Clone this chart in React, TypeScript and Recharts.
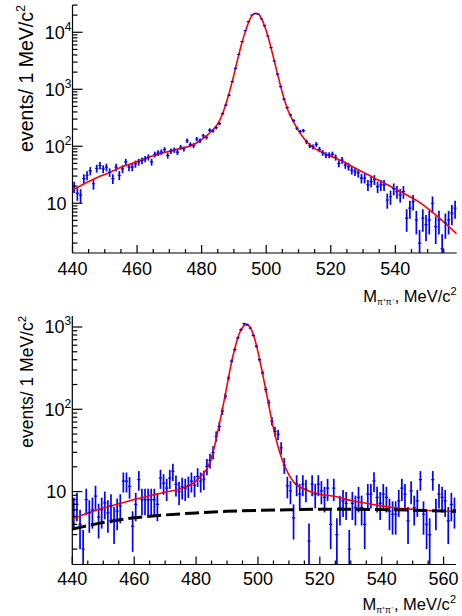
import React from 'react';
import { ComposedChart, XAxis, YAxis, Scatter, Line, ErrorBar } from 'recharts';

const FONT = '"Liberation Sans", Arial, Helvetica, sans-serif';

// ---------- Panel a ----------
const binStartA = 440.5; // first bin centre, 1 MeV bins
const countsA = [
  19.5, 14.9, 13.9, 27, 31, 37, 22, 41, 46, 40,
  43, 35, 27, 43, 31, 40, 53, 43, 43, 49,
  53, 56, 60, 64, 53, 72, 76, 79, 87, 69,
  82, 86, 79, 96, 90, 125, 107, 103, 134, 125,
  153, 143, 192, 187, 213, 250, 373, 528, 790, 1360,
  2330, 4110, 6840, 10670, 15350, 20100, 21200, 20700, 17100, 13060,
  8610, 5370, 3130, 1850, 1110, 670, 475, 354, 281, 207,
  180, 188, 120, 103, 98, 108, 88, 77, 70, 70,
  72, 64, 50, 57, 47, 44, 38, 36, 34, 27.5,
  27.5, 21, 24, 26, 19.5, 21, 21, 11.4, 13, 18,
  16, 14, 16, 5.5, 8.2, 10.7, 5.1, 2.0, 5.5, 4.2,
  5.1, 10, 3.9, 5.1, 1.6, 4.5, 5.1, 6.7, 8.2,
];
const fitAx = [
  440, 442, 445, 448, 450, 453, 455, 458, 460, 463, 465, 468, 470, 473, 475, 477, 479, 480, 481, 482,
  483, 484, 485, 486, 487, 488, 489, 490, 491, 492, 493, 494, 495, 496, 496.8, 497.5, 498, 498.5, 499, 499.5,
  500, 500.5, 501, 501.5, 502, 502.5, 503, 503.5, 504, 504.5, 505, 505.5, 506, 506.5, 507, 508, 509, 510, 511, 512,
  513, 514, 515, 516, 517, 518, 520, 522, 525, 528, 530, 533, 535, 538, 540, 543, 545, 547, 549, 551,
  553, 555, 557, 559,
];
const fitAy = [
  17, 19.5, 24, 29, 32, 38, 43, 49, 54, 62, 68, 76, 82, 90, 96, 104, 120, 132, 145, 162,
  183, 210, 250, 320, 450, 680, 1080, 1800, 3100, 5200, 8300, 12300, 17300, 20600, 21600, 21000, 19700, 17500, 15200, 12800,
  10600, 8600, 6800, 5300, 4100, 3150, 2400, 1850, 1430, 1110, 870, 690, 560, 465, 395, 300, 235, 188, 155, 130,
  113, 101, 92, 85, 80, 75, 67, 60, 50, 40, 35, 28.5, 25, 20.5, 17.8, 14.5, 12.5, 10.8, 9, 7.3,
  5.9, 4.7, 3.7, 2.9,
];
const xDomainA: [number, number] = [440, 559];
const yDomainA: [number, number] = [1.34, 30100];
const xTicksA = [440, 445, 450, 455, 460, 465, 470, 475, 480, 485, 490, 495, 500, 505, 510, 515, 520, 525, 530, 535, 540, 545, 550, 555];
const xMajorA = [440, 460, 480, 500, 520, 540];
const yMajorA = [10, 100, 1000, 10000];

// ---------- Panel b ----------
const binStartB = 440.5;
const countsB = [
  6, 7, 4, 2, 8, 5.5, 6, 8.8, 4.9, 6,
  7.3, 5.5, 6.7, 4.4, 5.8, 6.7, 13.4, 13.4, 11.6, 3.8,
  7, 14, 8, 8, 8, 8, 8, 7, 14.6, 12.7,
  11, 14.6, 17.6, 12.2, 10, 11.4, 11, 11.8, 13.4, 12,
  15.3, 13.4, 14.2, 20.3, 24, 30, 47, 62, 95, 145,
  240, 384, 531, 736, 927, 1096, 1066, 972, 793, 583,
  401, 277, 174, 120, 72, 54, 49.5, 34, 21, 11.7,
  10.2, 4.8, 12.3, 9.3, 12.3, 10.7, 2.5, 12.3, 9.3, 12.3,
  10.2, 8.5, 11, 4.0, 11, 3.0, 6.4, 7.7, 7.2, 2.0,
  7.2, 6.4, 8.5, 6.4, 4.0, 9.3, 9.3, 13.5, 8.5, 7.2,
  9.3, 8.5, 5.8, 5.3, 5.3, 7.7, 11, 9.3, 4.4, 10.2,
  6.4, 7.7, 14, 5.3, 4.0, 3.0, 14, 5.8, 9.3, 8.5,
  7.7, 4.4, 7, 6,
];
const fitBx = [
  440, 445, 450, 455, 460, 465, 470, 475, 478, 480, 482, 483.5, 484.5, 485.5, 486.5, 487.5, 488.5, 489.5, 490.5, 491.5,
  492.5, 493.5, 494.5, 495.5, 496.3, 497, 497.5, 498.5, 499.5, 500.5, 501.5, 502.5, 503.5, 504.5, 505.5, 506.5, 507.5, 508.5, 510, 512,
  515, 520, 525, 530, 535, 540, 545, 550, 555, 560, 564,
];
const fitBy = [
  4.6, 5.5, 6.3, 7.1, 8.0, 8.9, 9.8, 10.8, 12.0, 13.5, 16, 19, 23, 30, 44, 65, 100, 155, 245, 380,
  545, 740, 920, 1040, 1075, 1040, 990, 810, 600, 410, 270, 175, 112, 72, 49, 35, 26.5, 21, 16, 12.5,
  10.7, 9.3, 8.7, 7.8, 7.2, 6.7, 6.3, 6.1, 5.9, 5.8, 5.75,
];
const bkgBx = [440, 450, 460, 470, 480, 490, 500, 510, 520, 530, 540, 550, 560, 564];
const bkgBy = [3.5, 4.2, 4.8, 5.2, 5.5, 5.75, 5.9, 6.0, 6.1, 6.1, 6.05, 5.95, 5.8, 5.75];
const xDomainB: [number, number] = [440, 564];
const yDomainB: [number, number] = [1.3, 1360];
const xTicksB = [440, 445, 450, 455, 460, 465, 470, 475, 480, 485, 490, 495, 500, 505, 510, 515, 520, 525, 530, 535, 540, 545, 550, 555, 560];
const xMajorB = [440, 460, 480, 500, 520, 540, 560];
const yMajorB = [10, 100, 1000];

const decades = [1, 10, 100, 1000, 10000];
const minorMult = [1, 2, 3, 4, 5, 6, 7, 8, 9];

const logTicks = (dom: [number, number]) =>
  decades.flatMap((d) => minorMult.map((m) => m * d)).filter((v) => v >= dom[0] && v <= dom[1]);

const toPoints = (start: number, counts: number[], yMin: number) =>
  counts.map((v, i) => {
    const e = Math.sqrt(v);
    return { x: start + i, y: v, err: [Math.min(e, v - yMin), e] };
  });

const zip = (xs: number[], ys: number[]) => xs.map((x, i) => ({ x, y: ys[i] }));

const makeXTick = (majors: number[], labelDy: number) => (props: any) => {
  const { x, y, payload } = props;
  const v = payload.value;
  const major = majors.includes(v);
  return (
    <g>
      <line x1={x} x2={x} y1={y} y2={y - (major ? 8 : 4)} stroke="#000" strokeWidth={1.2} />
      {major && (
        <text x={x} y={y + labelDy} textAnchor="middle" fontSize={18} fontFamily={FONT} fill="#000">
          {v}
        </text>
      )}
    </g>
  );
};

const makeYTick = (majors: number[]) => (props: any) => {
  const { x, y, payload } = props;
  const v = payload.value;
  const major = majors.includes(v);
  const exp = Math.round(Math.log10(v));
  return (
    <g>
      <line x1={x} x2={x + (major ? 10 : 5)} y1={y} y2={y} stroke="#000" strokeWidth={1.2} />
      {major &&
        (exp === 1 ? (
          <text x={x - 6} y={y + 6.5} textAnchor="end" fontSize={18} fontFamily={FONT} fill="#000">
            10
          </text>
        ) : (
          <text x={x - 1} y={y + 6.5} textAnchor="end" fontSize={18} fontFamily={FONT} fill="#000">
            10
            <tspan dy={-8} fontSize={12}>
              {exp}
            </tspan>
          </text>
        ))}
    </g>
  );
};

const makeXTitle = (dy: number) => (props: any) => {
  const vb = props.viewBox;
  return (
    <text x={vb.x + vb.width} y={vb.y + dy} textAnchor="end" fontSize={16.5} fontFamily={FONT} fill="#000">
      M
      <tspan fontSize={8.5} dy={3}>
        π⁺π⁻
      </tspan>
      <tspan dy={-3}>, MeV/c</tspan>
      <tspan fontSize={11} dy={-7}>
        2
      </tspan>
    </text>
  );
};

const makeYTitle = (size: number) => (props: any) => {
  const vb = props.viewBox;
  const x = vb.x + 33;
  const y = vb.y;
  return (
    <text
      x={x}
      y={y}
      transform={`rotate(-90, ${x}, ${y})`}
      textAnchor="end"
      fontSize={size}
      fontFamily={FONT}
      fill="#000"
    >
      events/ 1 MeV/c
      <tspan fontSize={size * 0.65} dy={-size * 0.42}>
        2
      </tspan>
    </text>
  );
};

const makeTag = (tag: string, dx: number) => (props: any) => {
  const vb = props.viewBox;
  return (
    <text x={vb.x + vb.width - dx} y={vb.y + 35} textAnchor="end" fontSize={18} fontWeight="bold" fontFamily={FONT} fill="#000">
      {tag}
    </text>
  );
};

type PanelProps = {
  points: any[];
  fit: any[];
  bkg?: any[];
  xDomain: [number, number];
  yDomain: [number, number];
  xTicks: number[];
  xMajor: number[];
  yMajor: number[];
  margin: { top: number; right: number; bottom: number; left: number };
  xAxisHeight: number;
  yAxisWidth: number;
  tag: string;
  tagDx: number;
  labelDy: number;
  titleDy: number;
  yTitleSize: number;
};

const Panel = (p: PanelProps) => (
  <ComposedChart width={462} height={308} margin={p.margin}>
    <XAxis
      dataKey="x"
      type="number"
      domain={p.xDomain}
      allowDataOverflow
      ticks={p.xTicks}
      interval={0}
      tickSize={0}
      tickMargin={0}
      tickLine={false}
      tick={makeXTick(p.xMajor, p.labelDy)}
      height={p.xAxisHeight}
      axisLine={{ stroke: '#000', strokeWidth: 1.2 }}
      label={makeXTitle(p.titleDy)}
    />
    <XAxis
      xAxisId="top"
      orientation="top"
      type="number"
      domain={[0, 1]}
      height={0}
      tick={false}
      tickLine={false}
      axisLine={{ stroke: '#000', strokeWidth: 1.2 }}
      label={makeTag(p.tag, p.tagDx)}
    />
    <YAxis
      type="number"
      scale="log"
      domain={p.yDomain}
      allowDataOverflow
      ticks={logTicks(p.yDomain)}
      interval={0}
      tickSize={0}
      tickMargin={0}
      tickLine={false}
      tick={makeYTick(p.yMajor)}
      width={p.yAxisWidth}
      axisLine={{ stroke: '#000', strokeWidth: 1.2 }}
      label={makeYTitle(p.yTitleSize)}
    />
    <YAxis
      yAxisId="right"
      orientation="right"
      type="number"
      domain={[0, 1]}
      width={0}
      tick={false}
      tickLine={false}
      axisLine={{ stroke: '#000', strokeWidth: 1.2 }}
    />
    <Scatter
      data={p.points}
      dataKey="y"
      isAnimationActive={false}
      fill="#0000ff"
      shape={(s: any) => (
        <line x1={s.cx - 1.6} x2={s.cx + 1.6} y1={s.cy} y2={s.cy} stroke="#0000ff" strokeWidth={1.2} />
      )}
    >
      <ErrorBar dataKey="err" direction="y" width={0} stroke="#0000ff" strokeWidth={1.7} isAnimationActive={false} />
    </Scatter>
    <Line
      data={p.fit}
      dataKey="y"
      type="monotone"
      stroke="#ff0000"
      strokeWidth={1.6}
      dot={false}
      activeDot={false}
      isAnimationActive={false}
    />
    {p.bkg && (
      <Line
        data={p.bkg}
        dataKey="y"
        type="monotone"
        stroke="#000"
        strokeWidth={3}
        strokeDasharray="14 5"
        dot={false}
        activeDot={false}
        isAnimationActive={false}
      />
    )}
  </ComposedChart>
);

export default function App() {
  const pointsA = toPoints(binStartA, countsA, yDomainA[0]);
  const pointsB = toPoints(binStartB, countsB, yDomainB[0]);
  return (
    <div style={{ position: 'absolute', left: 0, top: 0, width: 462, height: 616, background: '#fff', fontFamily: FONT }}>
      <div style={{ position: 'absolute', left: 0, top: 0 }}>
        <Panel
          points={pointsA}
          fit={zip(fitAx, fitAy)}
          xDomain={xDomainA}
          yDomain={yDomainA}
          xTicks={xTicksA}
          xMajor={xMajorA}
          yMajor={yMajorA}
          margin={{ top: 5, right: 5.3, bottom: 0, left: 0 }}
          xAxisHeight={55}
          yAxisWidth={72.5}
          tag="a)"
          tagDx={18}
          labelDy={21.5}
          titleDy={49}
          yTitleSize={19.5}
        />
      </div>
      <div style={{ position: 'absolute', left: 0, top: 308 }}>
        <Panel
          points={pointsB}
          fit={zip(fitBx, fitBy)}
          bkg={zip(bkgBx, bkgBy)}
          xDomain={xDomainB}
          yDomain={yDomainB}
          xTicks={xTicksB}
          xMajor={xMajorB}
          yMajor={yMajorB}
          margin={{ top: 8, right: 6, bottom: 0, left: 0 }}
          xAxisHeight={51.5}
          yAxisWidth={72.3}
          tag="b)"
          tagDx={20}
          labelDy={20}
          titleDy={45}
          yTitleSize={17.5}
        />
      </div>
    </div>
  );
}
